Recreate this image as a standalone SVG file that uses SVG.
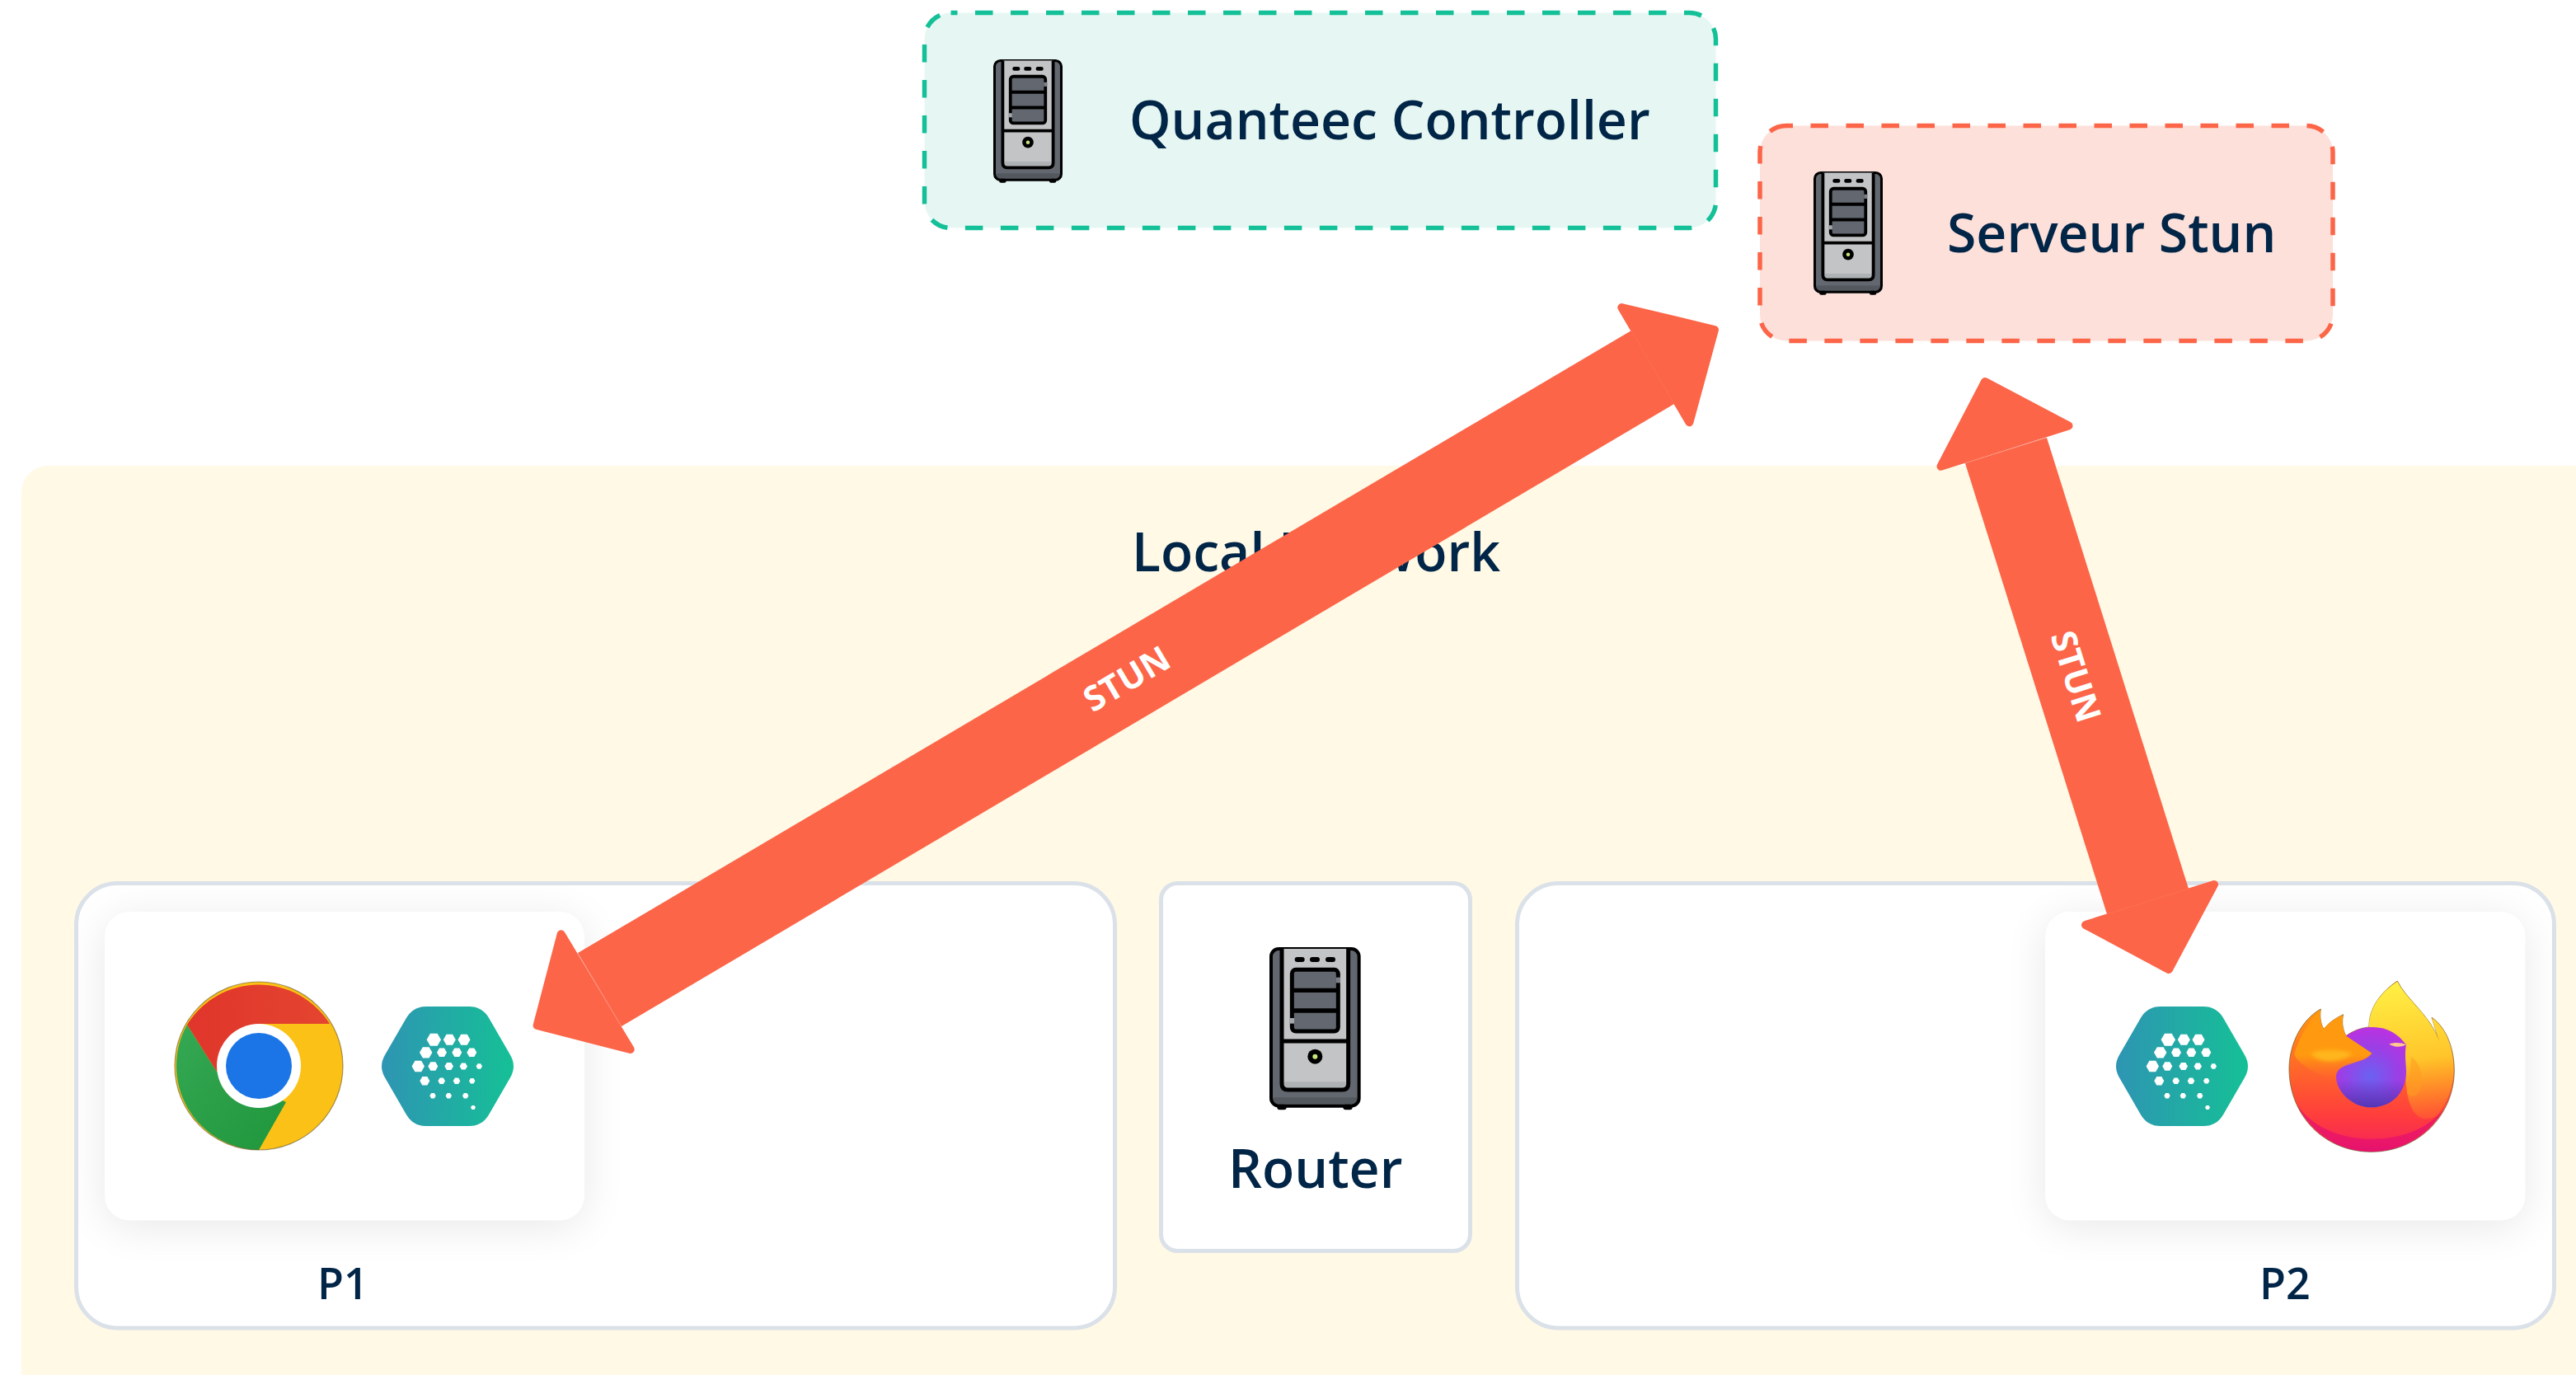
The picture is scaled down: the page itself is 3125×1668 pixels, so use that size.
<svg xmlns="http://www.w3.org/2000/svg" width="3125" height="1668" viewBox="0 0 3125 1668">
<style>
text{font-family:"Open Sans","Noto Sans","Liberation Sans",sans-serif;font-weight:600;fill:#012547}
.t{font-size:64.300px}
.p{font-size:52px}
.s{font-size:42px;font-weight:700;fill:#fff;text-anchor:middle;dominant-baseline:central}
.box{fill:#fff;stroke:#dbe1e8;stroke-width:5}
.card{fill:#fff}
.dash{stroke-width:5.500;stroke-dasharray:21.500 21.500;stroke-dashoffset:13.500}
.head{fill:#fc6548;stroke:#fc6548;stroke-width:10;stroke-linejoin:round}
.shaft{fill:#fc6548}
.seam{stroke:#fc7258;stroke-width:.7;fill:none}
</style>
<defs>
<filter id="soft" x="-30%" y="-40%" width="160%" height="180%"><feGaussianBlur stdDeviation="26"/></filter>
<filter id="blur6" x="-20%" y="-40%" width="140%" height="180%"><feGaussianBlur stdDeviation="6"/></filter>
<clipPath id="c1"><rect x="94" y="1074" width="1257" height="535" rx="48"/></clipPath>
<clipPath id="c2"><rect x="1842" y="1074" width="1256" height="535" rx="48"/></clipPath>
<linearGradient id="hx" x1="0" x2="1" y1="0" y2="0"><stop offset="0" stop-color="#2e95b3"/><stop offset="1" stop-color="#15c096"/></linearGradient>
<linearGradient id="red" x1="0" x2="1"><stop offset="0" stop-color="#e0352b"/><stop offset="1" stop-color="#e44530"/></linearGradient>
<linearGradient id="grn" x1="0" x2="1" y1="0" y2="1"><stop offset="0" stop-color="#35a853"/><stop offset="1" stop-color="#1f963c"/></linearGradient>
<path id="d" d="M-1,0L-.5,-.866L.5,-.866L1,0L.5,.866L-.5,.866Z" fill="#fff"/>
<g id="hive">
<path d="M-76,-13.800L-50,-58.700Q-42,-72.500 -26,-72.500L26,-72.500Q42,-72.500 50,-58.700L76,-13.800Q84,0 76,13.800L50,58.700Q42,72.500 26,72.500L-26,72.500Q-42,72.500 -50,58.700L-76,13.800Q-84,0 -76,-13.800Z" fill="url(#hx)"/>
<use href="#d" transform="translate(-16.700 -32.300) scale(8.700)"/><use href="#d" transform="translate(2.300 -32.300) scale(7.500)"/><use href="#d" transform="translate(20 -32.300) scale(7.500)"/>
<use href="#d" transform="translate(-26.300 -16.700) scale(7.700)"/><use href="#d" transform="translate(-7 -16.700) scale(6)"/><use href="#d" transform="translate(11.300 -16.700) scale(6)"/><use href="#d" transform="translate(29.300 -16.700) scale(6)"/>
<use href="#d" transform="translate(-35.700 0) scale(7.700)"/><use href="#d" transform="translate(-17.700 0) scale(6)"/><use href="#d" transform="translate(1.700 0) scale(5.300)"/><use href="#d" transform="translate(19.300 0) scale(4.700)"/><use href="#d" transform="translate(38.300 0) scale(3.700)"/>
<use href="#d" transform="translate(-27.700 17.700) scale(6)"/><use href="#d" transform="translate(-7.300 17.700) scale(4.300)"/><use href="#d" transform="translate(11 17.700) scale(4.300)"/><use href="#d" transform="translate(29.700 17.700) scale(3.700)"/>
<use href="#d" transform="translate(-18 35.700) scale(3.700)"/><use href="#d" transform="translate(1.300 35.700) scale(3.700)"/><use href="#d" transform="translate(21.700 35.700) scale(3.700)"/>
<use href="#d" transform="translate(31 50) scale(3)"/>
</g>
<g id="srv">
<rect x="186" y="94" width="320" height="572" rx="28" fill="#636870"/>
<rect x="190" y="635" width="312" height="25" fill="#53585f"/>
<rect x="208" y="660" width="34" height="20" rx="9" fill="#000"/><rect x="448" y="660" width="34" height="20" rx="9" fill="#000"/>
<rect x="186" y="94" width="320" height="572" rx="28" fill="none" stroke="#000" stroke-width="12"/>
<path d="M225,94V585Q225,607 247,607H445Q467,607 467,585V94Z" fill="#c3c4c6"/>
<rect x="232" y="578" width="228" height="22" fill="#aeb2b5"/>
<path d="M225,94V585Q225,607 247,607H445Q467,607 467,585V94M225,430H467" fill="none" stroke="#000" stroke-width="15"/>
<rect x="272" y="124" width="36" height="18" rx="9"/><rect x="327" y="124" width="36" height="18" rx="9"/><rect x="384" y="124" width="36" height="18" rx="9"/>
<rect x="262" y="170" width="168" height="224" rx="14" fill="#636870" stroke="#000" stroke-width="15"/>
<path d="M262,245H430M262,319H430" stroke="#000" stroke-width="16"/>
<rect x="422" y="198" width="16" height="20" fill="#7a7e84"/><rect x="254" y="346" width="16" height="20" fill="#a4a7ab"/>
<circle cx="346" cy="486" r="27"/><circle cx="346" cy="486" r="9" fill="#c8e67c"/>
</g>
<radialGradient id="ball" gradientUnits="userSpaceOnUse" cx="1065" cy="465" r="170"><stop offset="0" stop-color="#6a62f2"/><stop offset=".6" stop-color="#9a3fe6"/><stop offset="1" stop-color="#b833e1"/></radialGradient>
<linearGradient id="ballb" gradientUnits="userSpaceOnUse" x1="0" x2="0" y1="480" y2="580"><stop offset="0" stop-color="#3f36a8" stop-opacity="0"/><stop offset="1" stop-color="#3f36a8" stop-opacity=".8"/></linearGradient>
<linearGradient id="fxb" gradientUnits="userSpaceOnUse" x1="0" x2="0" y1="220" y2="742"><stop offset="0" stop-color="#ff980e"/><stop offset=".4" stop-color="#ff6a28"/><stop offset=".75" stop-color="#ff3d3d"/><stop offset=".9" stop-color="#f92d4f"/><stop offset="1" stop-color="#e31571"/></linearGradient>
<linearGradient id="fxy" gradientUnits="userSpaceOnUse" x1="1200" x2="1270" y1="120" y2="640"><stop offset="0" stop-color="#fff044"/><stop offset=".55" stop-color="#ffc52a"/><stop offset="1" stop-color="#ff8a1e" stop-opacity=".2"/></linearGradient>
<linearGradient id="fxh" gradientUnits="userSpaceOnUse" x1="0" x2="0" y1="240" y2="490"><stop offset="0" stop-color="#ff9a10"/><stop offset=".6" stop-color="#ff9a10"/><stop offset="1" stop-color="#ff6a28" stop-opacity="0"/></linearGradient>
<path id="ballp" d="M978,320C1010,298 1040,288 1075,288C1130,288 1170,315 1197,352C1190,390 1197,420 1197,450C1197,530 1140,580 1070,580C1000,580 940,520 942,465C945,445 960,430 990,420C1030,412 1055,405 1072,383Z"/>
</defs>

<rect id="network-bg" x="26" y="565" width="3200" height="1200" rx="32" fill="#fff9e6"/>
<g id="local-network-label"><text class="t" x="1373" y="693">Local Network</text></g>

<g id="quanteec-controller">
<rect class="dash" x="1121.500" y="15.500" width="960" height="261" rx="32" fill="#e6f7f3" stroke="#14c098"/>
<use href="#srv" transform="translate(1205 72) scale(.253) translate(-180 -88)"/>
<text class="t" x="1370" y="169">Quanteec Controller</text>
</g>
<g id="serveur-stun">
<rect class="dash" x="2135" y="152.500" width="695" height="261" rx="32" fill="#fde0da" stroke="#fc6548"/>
<use href="#srv" transform="translate(2200 208) scale(.253) translate(-180 -88)"/>
<text class="t" x="2362" y="306">Serveur Stun</text>
</g>

<g id="p1">
<rect class="box" x="92.500" y="1071.500" width="1260" height="539.500" rx="50"/>
<g clip-path="url(#c1)"><rect x="127" y="1114" width="582" height="374" rx="30" fill="#000" opacity=".09" filter="url(#soft)"/></g>
<rect class="card" x="127" y="1106" width="582" height="374.500" rx="30"/>
<g id="chrome">
<circle cx="314" cy="1293" r="102" fill="#fbc116"/>
<path d="M227,1243A102,102 0 0 0 314,1395L347,1337L263,1300Z" fill="url(#grn)"/>
<path d="M400,1242A102,102 0 0 0 227,1243L263,1300L314,1242Z" fill="url(#red)"/>
<circle cx="314" cy="1293" r="51" fill="#fff"/><circle cx="314" cy="1293" r="40" fill="#1b75e6"/>
<circle cx="314" cy="1293" r="102" fill="none" stroke="#5a4a20" stroke-opacity=".55" stroke-width="1.200"/>
</g>
<use href="#hive" transform="translate(543 1293.500)"/>
<text class="p" x="385" y="1576">P1</text>
</g>

<g id="router">
<rect class="box" x="1408.500" y="1071.500" width="375" height="446" rx="20"/>
<use href="#srv" transform="translate(1540 1149) scale(.3333) translate(-180 -88)"/>
<text class="t" x="1490" y="1441">Router</text>
</g>

<g id="p2">
<rect class="box" x="1840.500" y="1071.500" width="1258" height="539.500" rx="50"/>
<g clip-path="url(#c2)"><rect x="2481" y="1114" width="582" height="374" rx="30" fill="#000" opacity=".09" filter="url(#soft)"/></g>
<rect class="card" x="2481" y="1106" width="582.500" height="374.500" rx="30"/>
<use href="#hive" transform="translate(2647 1293.500)"/>
<g id="firefox" transform="translate(2520 1150) scale(.33333)">
<path d="M1165,120C1195,185 1285,245 1317,338L1290,253C1345,290 1372,370 1372,445C1372,610 1240,742 1070,742C900,742 771,610 771,440C771,350 815,262 886,222C882,250 885,275 897,295C915,272 940,255 968,242C962,270 965,295 978,320C1005,300 1035,290 1062,288C1060,220 1105,160 1165,120Z" fill="url(#fxb)" stroke="#6b5a20" stroke-opacity=".7" stroke-width="3"/>
<path d="M800,570C850,650 960,695 1070,695C1180,695 1270,660 1330,590C1280,680 1180,741 1070,741C950,741 850,670 800,570Z" fill="#e5116f" opacity=".75"/>
<path d="M1165,122C1195,185 1285,245 1317,338L1290,255C1345,290 1370,370 1370,445C1370,500 1350,560 1310,610C1260,640 1200,620 1195,470C1195,380 1130,300 1062,288C1060,220 1105,160 1165,122Z" fill="url(#fxy)"/>
<path d="M1215,395C1260,430 1260,490 1245,520C1230,550 1210,540 1200,530C1205,480 1215,440 1215,395Z" fill="#ff9a20" opacity=".55"/>
<use href="#ballp" fill="url(#ball)"/><use href="#ballp" fill="url(#ballb)"/>
<path d="M1135,350C1155,342 1180,345 1197,352C1180,362 1155,362 1135,350Z" fill="#ffc78f"/>
<path d="M886,225C882,250 885,275 897,295C915,272 940,255 968,244C962,270 965,295 978,320L1072,383C1050,410 990,418 955,440C940,452 938,465 942,490C900,470 800,430 790,385C810,320 845,265 886,225Z" fill="url(#fxh)"/>
<path d="M850,385C870,368 960,365 1000,385C970,415 880,425 850,385Z" fill="#ffb51f" filter="url(#blur6)"/>
</g>
<text class="p" x="2741" y="1576">P2</text>
</g>

<g id="connectors">
<g id="stun-p1">
<path class="shaft" d="M1979,401L2031,490L754,1245L701,1156Z"/>
<path class="head" d="M1967.300,373L2080,400L2049.400,512.300Z"/>
<path class="head" d="M680.700,1133.300L651.600,1244L764.700,1273Z"/>
<path class="seam" d="M1979,401L2031,490M701,1156L754,1245"/>
<text class="s" transform="translate(1366 822) rotate(-30.600)">STUN</text>
</g>
<g id="stun-p2">
<path class="shaft" d="M2384,562L2483,531L2655,1078L2556,1109Z"/>
<path class="head" d="M2408,463L2509.500,516.500L2354.500,565.800Z"/>
<path class="head" d="M2631,1176L2530,1122L2686,1073Z"/>
<path class="seam" d="M2384,562L2483,531M2556,1109L2655,1078"/>
<text class="s" transform="translate(2520 820) rotate(72.500)">STUN</text>
</g>
</g>
</svg>
